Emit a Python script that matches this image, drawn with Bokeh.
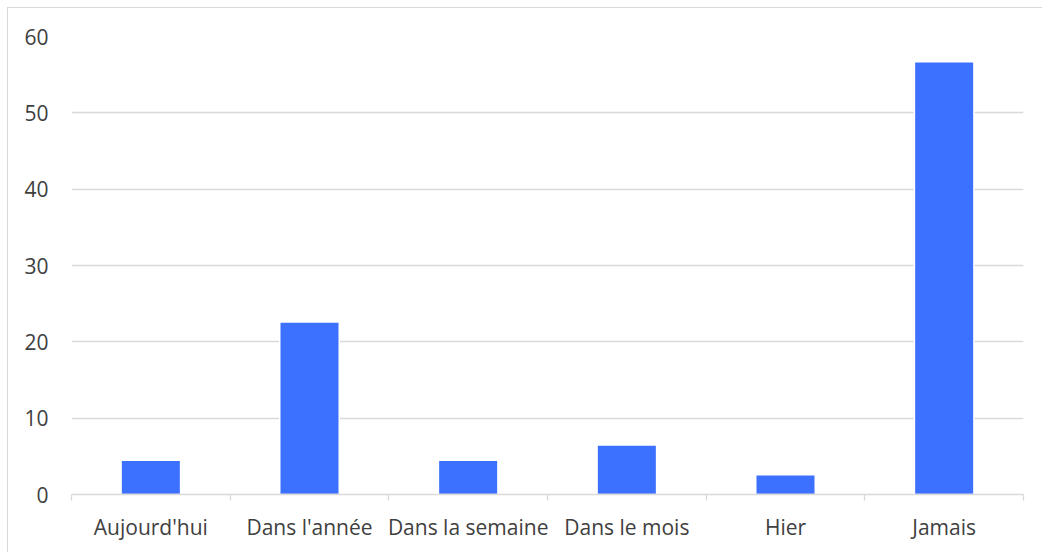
from bokeh.plotting import figure
from bokeh.models import Range1d, FixedTicker
from bokeh.embed import file_html
from bokeh.resources import INLINE

categories = ["Aujourd'hui", "Dans l'année", "Dans la semaine", "Dans le mois", "Hier", "Jamais"]
values = [4.5, 22.6, 4.5, 6.5, 2.6, 56.7]
y_ticks = [0, 10, 20, 30, 40, 50, 60]

xs = list(range(len(categories)))

p = figure(width=1035, height=545, output_backend="svg", toolbar_location=None,
           x_range=Range1d(-0.5, len(categories) - 0.5), y_range=Range1d(0, 60),
           min_border_left=63, min_border_right=20, min_border_top=28, min_border_bottom=59)
p.styles = {"border-left": "1.5px solid #d9d9d9", "border-top": "1.5px solid #d9d9d9",
            "box-sizing": "border-box", "margin-left": "7px", "margin-top": "7px"}
p.outline_line_color = None
p.background_fill_color = "white"
p.border_fill_color = "white"

p.vbar(x=xs, top=values, width=0.375, fill_color="#3B71FE", line_color="white", line_width=1.5)

font = "Open Sans"
# y axis
p.yaxis.ticker = FixedTicker(ticks=y_ticks)
p.yaxis.axis_line_color = None
p.yaxis.major_tick_line_color = None
p.yaxis.minor_tick_line_color = None
p.yaxis.major_tick_out = 0
p.yaxis.major_label_standoff = 23
p.yaxis.major_label_text_font = font
p.yaxis.major_label_text_font_size = "21px"
p.yaxis.major_label_text_color = "#404040"

p.ygrid.ticker = FixedTicker(ticks=y_ticks)
p.ygrid.grid_line_color = "#d9d9d9"
p.ygrid.grid_line_width = 1.3
p.xgrid.grid_line_color = None

# x axis
p.xaxis.ticker = FixedTicker(ticks=xs, minor_ticks=[i - 0.5 for i in range(len(categories) + 1)])
p.xaxis.major_label_overrides = {i: c for i, c in enumerate(categories)}
p.xaxis.axis_line_color = "#d9d9d9"
p.xaxis.axis_line_width = 1.3
p.xaxis.major_tick_line_color = None
p.xaxis.major_tick_out = 0
p.xaxis.major_tick_in = 0
p.xaxis.minor_tick_line_color = "#d9d9d9"
p.xaxis.minor_tick_line_width = 1.3
p.xaxis.minor_tick_out = 6
p.xaxis.minor_tick_in = 0
p.xaxis.major_label_standoff = 12
p.xaxis.major_label_text_font = font
p.xaxis.major_label_text_font_size = "21px"
p.xaxis.major_label_text_color = "#404040"

open("out.html", "w").write(file_html(p, INLINE))
